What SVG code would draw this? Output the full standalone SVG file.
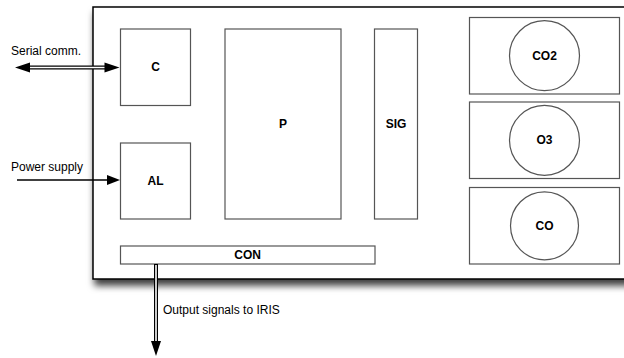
<svg xmlns="http://www.w3.org/2000/svg" width="624" height="358" viewBox="0 0 624 358">
<style>
.box{fill:#fff;stroke:#555;stroke-width:1.2}
.lbl{font-family:"Liberation Sans",Arial,sans-serif;font-size:12px;font-weight:bold;fill:#000;text-anchor:middle;dominant-baseline:central}
.txt{font-family:"Liberation Sans",Arial,sans-serif;font-size:12px;fill:#000}
.dbl-out{stroke:#000;stroke-width:4;fill:none}
.dbl-in{stroke:#fff;stroke-width:1.6;fill:none}
</style>
<defs>
<filter id="sh" x="-5%" y="-5%" width="115%" height="120%">
<feDropShadow dx="2" dy="6" stdDeviation="3.5" flood-color="#000" flood-opacity="0.75"/>
</filter>
</defs>
<g id="board">
<rect x="93" y="7" width="545" height="272" fill="#fff" stroke="#000" stroke-width="1.5" filter="url(#sh)"/>
</g>
<g id="C"><rect class="box" x="120.5" y="29" width="70" height="76.5"/><text class="lbl" x="155.5" y="67">C</text></g>
<g id="AL"><rect class="box" x="120.5" y="143" width="70" height="76"/><text class="lbl" x="155.5" y="181">AL</text></g>
<g id="P"><rect class="box" x="225" y="29" width="116" height="190"/><text class="lbl" x="283" y="124">P</text></g>
<g id="SIG"><rect class="box" x="374.5" y="29" width="43" height="190"/><text class="lbl" x="396" y="124">SIG</text></g>
<g id="CO2"><rect class="box" x="469.5" y="17.5" width="150" height="76.5"/><circle class="box" cx="544.5" cy="55.7" r="35"/><text class="lbl" x="544.5" y="55.7">CO2</text></g>
<g id="O3"><rect class="box" x="469.5" y="102" width="150" height="76.5"/><circle class="box" cx="544.5" cy="140.3" r="35"/><text class="lbl" x="544.5" y="140.3">O3</text></g>
<g id="CO"><rect class="box" x="469.5" y="187.5" width="150" height="76.5"/><circle class="box" cx="544.5" cy="225.8" r="34"/><text class="lbl" x="544.5" y="225.8">CO</text></g>
<g id="CON"><rect class="box" x="120.5" y="246" width="254.5" height="18"/><text class="lbl" x="247.7" y="255">CON</text></g>
<g id="connectors">
<line class="dbl-out" x1="28" y1="67.5" x2="107" y2="67.5"/>
<line class="dbl-in" x1="28" y1="67.5" x2="107" y2="67.5"/>
<polygon points="15,67.5 30,62.5 30,72.5" fill="#000"/>
<polygon points="119.5,67.5 104.5,62.5 104.5,72.5" fill="#000"/>
<line x1="17" y1="180" x2="108" y2="180" stroke="#000" stroke-width="1.5"/>
<polygon points="120,180 107,175 107,185" fill="#000"/>
<line class="dbl-out" x1="156" y1="264" x2="156" y2="343"/>
<line class="dbl-in" x1="156" y1="265" x2="156" y2="343"/>
<polygon points="156,356 151,341 161,341" fill="#000"/>
</g>
<text class="txt" x="11" y="55">Serial comm.</text>
<text class="txt" x="11" y="171">Power supply</text>
<text class="txt" x="163" y="314">Output signals to IRIS</text>
</svg>
